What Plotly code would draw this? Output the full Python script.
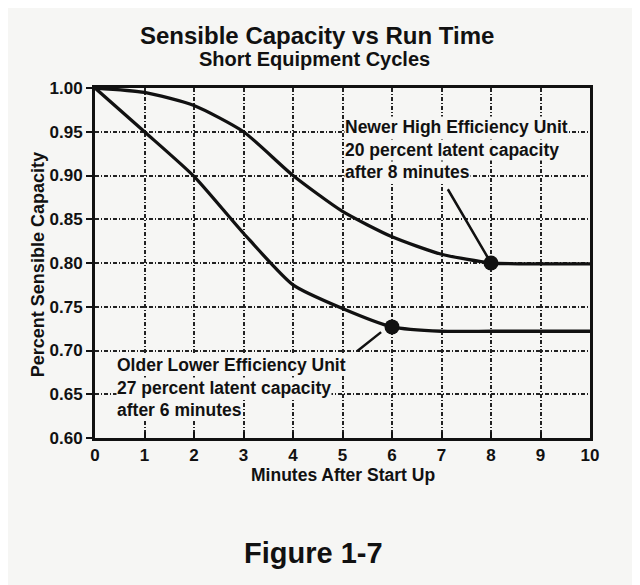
import plotly.graph_objects as go

minutes = [0, 1, 2, 3, 4, 5, 6, 7, 8, 9, 10]
newer_unit = [1.000, 0.995, 0.980, 0.950, 0.900, 0.859, 0.830, 0.810, 0.800, 0.799, 0.799]
older_unit = [1.000, 0.950, 0.899, 0.834, 0.775, 0.748, 0.727, 0.722, 0.722, 0.722, 0.722]

newer_point = (8, 0.800)
older_point = (6, 0.727)

newer_label = ["Newer High Efficiency Unit", "20 percent latent capacity", "after 8 minutes"]
older_label = ["Older Lower Efficiency Unit", "27 percent latent capacity", "after 6 minutes"]

x_ticks = list(range(0, 11))
x_tick_text = [str(v) for v in x_ticks]
y_ticks = [0.60, 0.65, 0.70, 0.75, 0.80, 0.85, 0.90, 0.95, 1.00]
y_tick_text = ["0.60", "0.65", "0.70", "0.75", "0.80", "0.85", "0.90", "0.95", "1.00"]

BG = "#f6f6f4"
FONT = "Liberation Sans, Arial, sans-serif"

fig = go.Figure()
fig.add_trace(go.Scatter(x=minutes, y=newer_unit, mode="lines",
                         line=dict(color="#111", width=3.3, shape="spline", smoothing=0.6),
                         showlegend=False, hoverinfo="skip"))
fig.add_trace(go.Scatter(x=minutes, y=older_unit, mode="lines",
                         line=dict(color="#111", width=3.3, shape="spline", smoothing=0.6),
                         showlegend=False, hoverinfo="skip"))
fig.add_trace(go.Scatter(x=[newer_point[0], older_point[0]], y=[newer_point[1], older_point[1]],
                         mode="markers", marker=dict(color="#111", size=15),
                         showlegend=False, hoverinfo="skip"))

annotations = []
# leader lines
annotations.append(dict(x=newer_point[0], y=newer_point[1], xref="x", yref="y",
                        ax=7.11, ay=0.886, axref="x", ayref="y", text="",
                        showarrow=True, arrowhead=0, arrowwidth=2.5, arrowcolor="#111"))
annotations.append(dict(x=5.78, y=0.721, xref="x", yref="y",
                        ax=5.27, ay=0.698, axref="x", ayref="y", text="",
                        showarrow=True, arrowhead=0, arrowwidth=2.5, arrowcolor="#111"))

newer_ys = [0.9558, 0.9291, 0.9043]
older_ys = [0.6834, 0.6571, 0.6320]
for txt, yy in zip(newer_label, newer_ys):
    annotations.append(dict(x=5.03, y=yy, xref="x", yref="y", text="<b>%s</b>" % txt,
                            showarrow=False, xanchor="left", yanchor="middle",
                            font=dict(family=FONT, size=17.5, color="#111"), bgcolor=BG, borderpad=0))
for txt, yy in zip(older_label, older_ys):
    annotations.append(dict(x=0.42, y=yy, xref="x", yref="y", text="<b>%s</b>" % txt,
                            showarrow=False, xanchor="left", yanchor="middle",
                            font=dict(family=FONT, size=17.5, color="#111"), bgcolor=BG, borderpad=0))

annotations.append(dict(x=0.448, y=1.151, xref="paper", yref="paper",
                        text="<b>Sensible Capacity vs Run Time</b>", showarrow=False,
                        font=dict(family=FONT, size=24, color="#111"), xanchor="center", yanchor="middle"))
annotations.append(dict(x=0.444, y=1.083, xref="paper", yref="paper",
                        text="<b>Short Equipment Cycles</b>", showarrow=False,
                        font=dict(family=FONT, size=20, color="#111"), xanchor="center", yanchor="middle"))
annotations.append(dict(x=-0.115, y=0.494, xref="paper", yref="paper",
                        text="<b>Percent Sensible Capacity</b>", showarrow=False, textangle=-90,
                        font=dict(family=FONT, size=18, color="#111"), xanchor="center", yanchor="middle"))
annotations.append(dict(x=0.5, y=-0.106, xref="paper", yref="paper",
                        text="<b>Minutes After Start Up</b>", showarrow=False,
                        font=dict(family=FONT, size=17.5, color="#111"), xanchor="center", yanchor="middle"))
annotations.append(dict(x=0.442, y=-0.329, xref="paper", yref="paper",
                        text="<b>Figure 1-7</b>", showarrow=False,
                        font=dict(family=FONT, size=29, color="#111"), xanchor="center", yanchor="middle"))

fig.update_layout(
    width=640, height=585,
    margin=dict(l=87, r=58, t=80, b=155),
    paper_bgcolor=BG, plot_bgcolor=BG,
    annotations=annotations,
    font=dict(family=FONT, color="#111"),
)
fig.update_xaxes(range=[0, 10], tickvals=x_ticks, ticktext=["<b>%s</b>" % t for t in x_tick_text],
                 showgrid=True, gridcolor="#222", gridwidth=1.6,
                 griddash="4px,2px,1px,2px", showline=True, linecolor="#111", linewidth=2.8, mirror=True,
                 ticks="inside", ticklen=6, tickwidth=2, tickcolor="#111", zeroline=False,
                 tickfont=dict(family=FONT, size=17, color="#111"))
fig.update_yaxes(range=[0.60, 1.00], tickvals=y_ticks, ticktext=["<b>%s</b>" % t for t in y_tick_text],
                 showgrid=True, gridcolor="#222", gridwidth=1.6,
                 griddash="4px,2px,1px,2px", showline=True, linecolor="#111", linewidth=2.8, mirror=True,
                 ticks="outside", ticklen=6, tickwidth=2, tickcolor="#111", zeroline=False,
                 tickfont=dict(family=FONT, size=17, color="#111"))

fig.write_html("out.html")
